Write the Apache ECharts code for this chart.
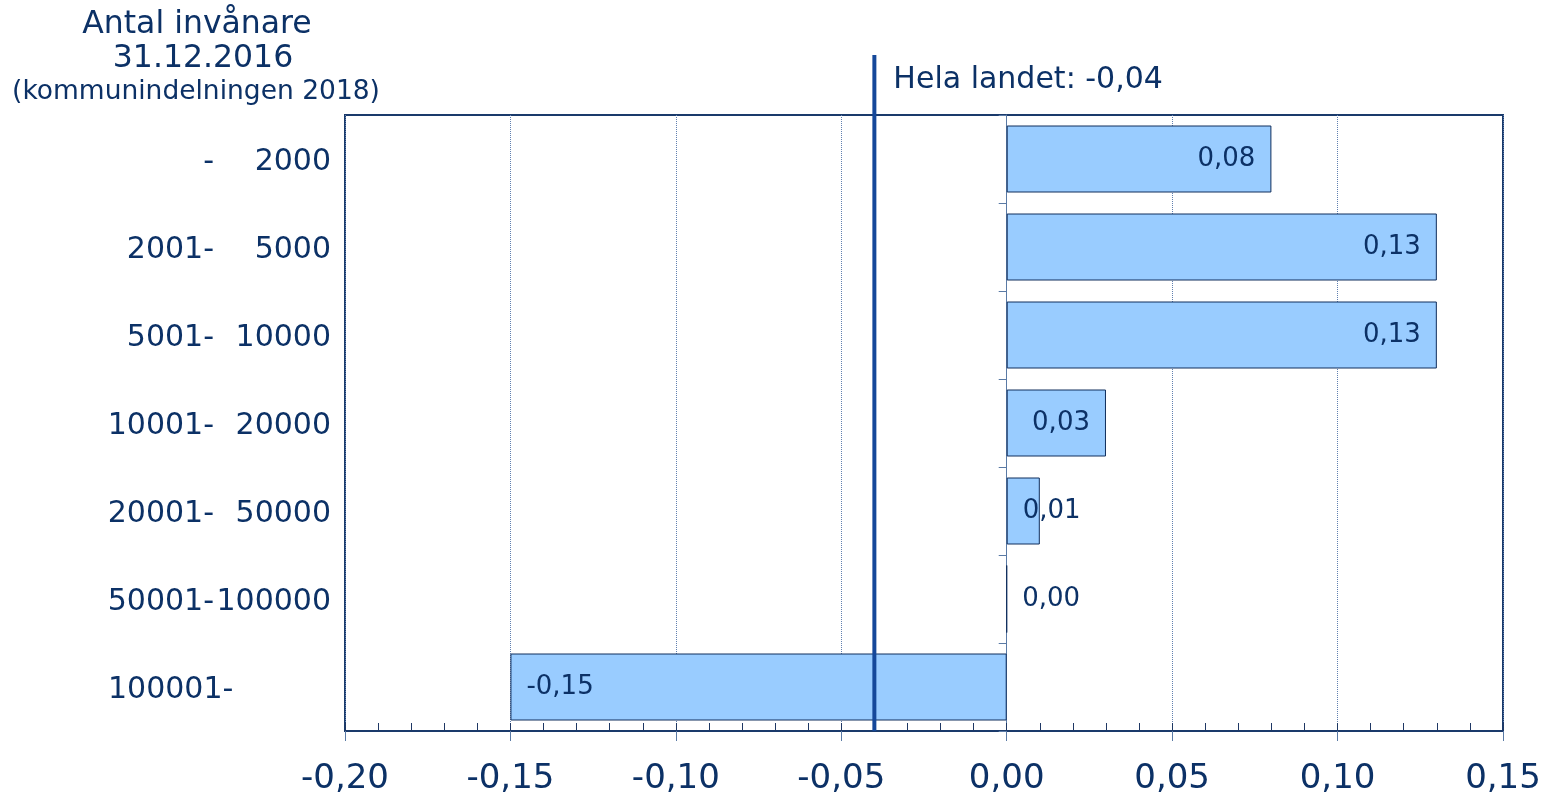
<!DOCTYPE html>
<html>
<head>
<meta charset="utf-8">
<script src="https://cdn.jsdelivr.net/npm/echarts@6/dist/echarts.min.js"></script>
<style>
  html, body { margin: 0; padding: 0; background: #fff; }
  #chart { width: 1545px; height: 798px; }
</style>
</head>
<body>
<div id="chart"></div>
<script>
// kategorier (antal invånare) och värden
const categories = ['- 2000', '2001- 5000', '5001- 10000', '10001- 20000', '20001- 50000', '50001-100000', '100001-']
const values = [0.08, 0.13, 0.13, 0.03, 0.01, 0.00, -0.15]
const nationalValue = -0.04
const xTicks = [-0.20, -0.15, -0.10, -0.05, 0.00, 0.05, 0.10, 0.15]

const navy = '#0c3166'
const font = 'DejaVu Sans'
const fmt = v => v.toFixed(2).replace('.', ',')

const chart = echarts.init(document.getElementById('chart'))

chart.setOption({
  animation: false,
  textStyle: { fontFamily: font, color: navy },
  grid: {
    left: 345, right: 42, top: 115, bottom: 67,
    show: true, borderColor: '#1a3a6b', borderWidth: 2, backgroundColor: 'transparent'
  },
  graphic: [
    { type: 'text', x: 197, y: 9, style: { text: 'Antal invånare', font: '31.5px "DejaVu Sans"', fill: navy, align: 'center' } },
    { type: 'text', x: 203, y: 43, style: { text: '31.12.2016', font: '31.5px "DejaVu Sans"', fill: navy, align: 'center' } },
    { type: 'text', x: 196, y: 79, style: { text: '(kommunindelningen 2018)', font: '26.5px "DejaVu Sans"', fill: navy, align: 'center' } }
  ],
  xAxis: [{
    type: 'value',
    min: xTicks[0],
    max: xTicks[xTicks.length - 1],
    interval: 0.05,
    axisLine: { show: true, onZero: false, lineStyle: { color: '#1a3a6b', width: 2 } },
    axisTick: { show: true, length: 10, lineStyle: { color: '#5a7aa5', width: 1 } },
    axisLabel: { fontSize: 34, color: navy, margin: 31, formatter: v => fmt(v) },
    splitLine: { show: true, lineStyle: { type: 'dotted', color: '#6080b0', width: 1 } }
  }, {
    // småstreck inåt
    type: 'value',
    position: 'bottom',
    min: xTicks[0],
    max: xTicks[xTicks.length - 1],
    interval: 0.01,
    axisLine: { show: false, onZero: false },
    axisTick: { show: true, inside: true, length: 8, lineStyle: { color: '#1f3864', width: 1 } },
    axisLabel: { show: false },
    splitLine: { show: false }
  }],
  yAxis: [{
    type: 'category',
    data: categories,
    inverse: true,
    position: 'left',
    axisLine: { show: false, onZero: false },
    axisTick: { show: false },
    axisLabel: {
      margin: 14,
      formatter: (v) => {
        const i = v.indexOf('-')
        const left = v.slice(0, i + 1)
        const right = v.slice(i + 1).trim()
        if (!right) return '{c|' + left + '}'
        return '{a|' + left + '}{b|' + right + '}'
      },
      rich: {
        a: { width: 106, align: 'right', fontSize: 30, fontFamily: font, color: navy, padding: [7, 0, 0, 0] },
        b: { width: 117, align: 'right', fontSize: 30, fontFamily: font, color: navy, padding: [7, 0, 0, 0] },
        c: { width: 223, align: 'left', fontSize: 30, fontFamily: font, color: navy, padding: [7, 0, 0, 0] }
      }
    }
  }, {
    // nollinjen med kategoristreck
    type: 'category',
    data: categories,
    inverse: true,
    position: 'left',
    axisLine: { show: true, onZero: true, lineStyle: { color: '#5a7aa5', width: 1 } },
    axisTick: { show: true, length: 8, lineStyle: { color: '#5a7aa5', width: 1 } },
    axisLabel: { show: false }
  }],
  series: [{
    type: 'bar',
    xAxisIndex: 0,
    yAxisIndex: 0,
    barWidth: 67,
    itemStyle: { color: '#99ccff', borderColor: '#102e5c', borderWidth: 1 },
    label: {
      show: true, fontSize: 26, fontFamily: font, color: navy, distance: 16,
      padding: [3, 0, 0, 0],
      formatter: p => fmt(p.value)
    },
    data: values.map(v => ({
      value: v,
      label: { position: v < 0 ? 'insideLeft' : (v >= 0.03 ? 'insideRight' : 'insideLeft') }
    })),
    z: 2
  }, {
    type: 'custom',
    xAxisIndex: 0,
    yAxisIndex: 0,
    z: 5,
    data: [[nationalValue, 0]],
    renderItem: (params, api) => {
      const x = api.coord([api.value(0), 0])[0]
      const cs = params.coordSys
      return {
        type: 'group',
        children: [{
          type: 'line',
          shape: { x1: x, y1: cs.y - 60, x2: x, y2: cs.y + cs.height },
          style: { stroke: '#15489a', lineWidth: 4 }
        }, {
          type: 'text',
          x: x + 19,
          y: cs.y - 35,
          style: {
            text: 'Hela landet: ' + fmt(api.value(0)),
            font: '30px "DejaVu Sans"', fill: navy, verticalAlign: 'middle'
          }
        }]
      }
    }
  }]
})
</script>
</body>
</html>
